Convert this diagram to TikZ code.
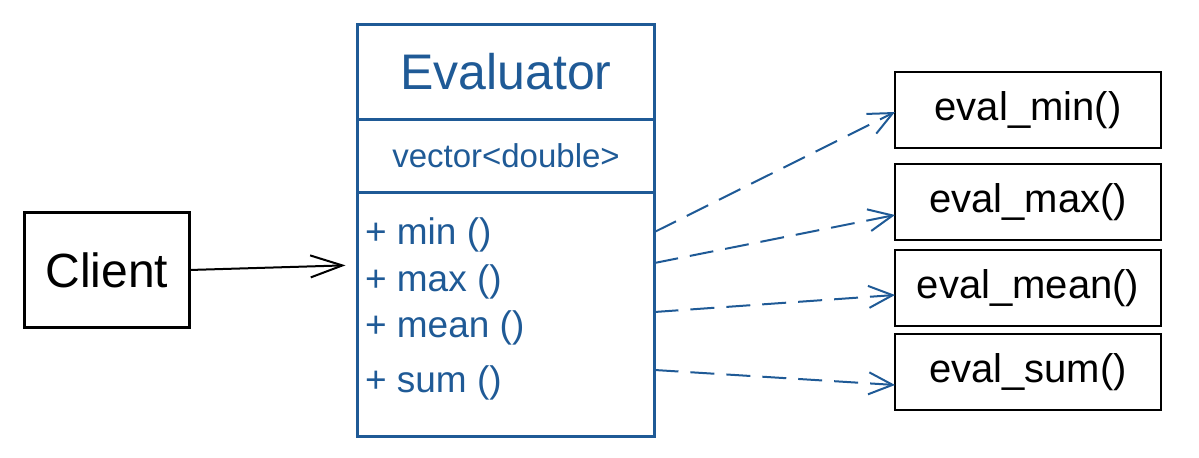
\documentclass[tikz,border=0pt]{standalone}
\usepackage{fontspec}
\setmainfont{Liberation Sans}
\usetikzlibrary{arrows.meta,positioning}
\definecolor{penblue}{HTML}{1F5A96}
\begin{document}
\begin{tikzpicture}[x=0.5pt, y=-0.5pt, every node/.style={inner sep=0pt, outer sep=0pt},
    box/.style={draw, line width=1.2pt},
    classbox/.style={box, penblue, text=penblue, minimum width=148.5pt},
    evalbox/.style={box, black, minimum width=133pt, minimum height=38pt, font=\fontsize{20}{24}\selectfont},
    opline/.style={penblue, anchor=west, font=\fontsize{18.5}{22}\selectfont},
    call/.style={penblue, line width=1pt, dash pattern=on 12pt off 6pt, -{Straight Barb[length=12pt, width=11pt]}}]
    \useasboundingbox (0,0) rectangle (1199,458);
    \node[box, minimum width=82.5pt, minimum height=57.5pt, font=\fontsize{24}{28}\selectfont] (client) at (107,270) {Client};
    \node[classbox, minimum height=47.5pt, font=\fontsize{25}{28}\selectfont] (title) at (506,72) {Evaluator};
    \node[classbox, minimum height=36.5pt, below=0pt of title, font=\fontsize{16.5}{20}\selectfont] (attr) {vector<double>};
    \node[classbox, minimum height=122pt, below=0pt of attr] (ops) {};
    \foreach \op/\y in {min/235, max/282, mean/328, sum/383} {
        \node[opline] (op\op) at (365,\y) {+ \op{} ()};
    }
    \draw[line width=1pt, -{Straight Barb[length=16pt, width=11pt]}, shorten >=6pt] (client.east) -- (ops.west |- 0,265);
    \foreach \name/\y/\from/\to in {min/110/232/112, max/202/263/215, mean/288/312/295, sum/372/370/385} {
        \node[evalbox] (e\name) at (1028,\y) {eval\_\name()};
        \draw[call] (ops.east |- 0,\from) -- (e\name.west |- 0,\to);
    }
\end{tikzpicture}
\end{document}
